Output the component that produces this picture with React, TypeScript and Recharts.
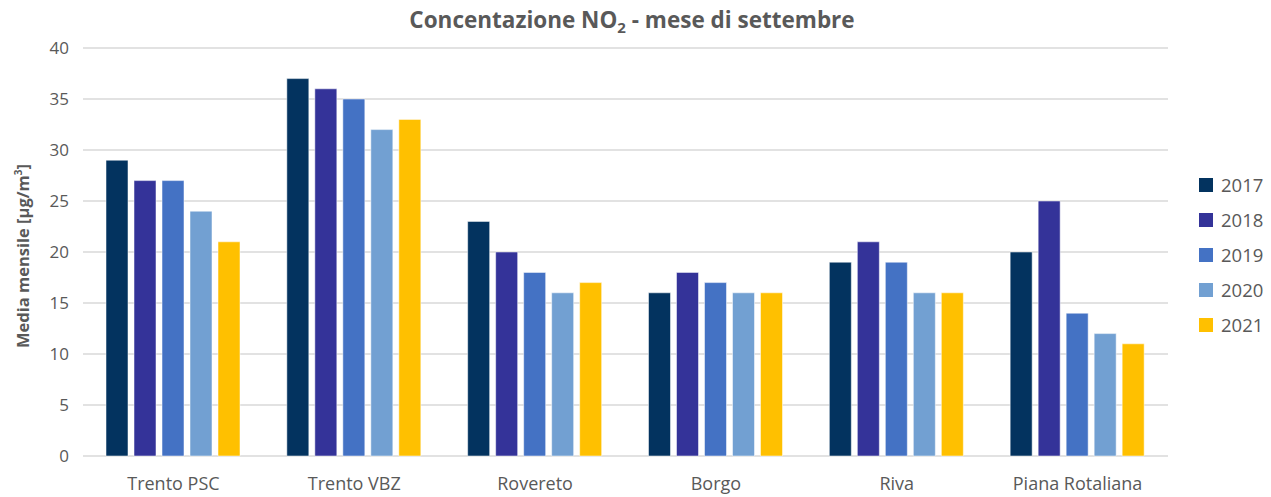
import React from "react";
import {
  BarChart,
  Bar,
  XAxis,
  YAxis,
  CartesianGrid,
} from "recharts";

const stations = ["Trento PSC", "Trento VBZ", "Rovereto", "Borgo", "Riva", "Piana Rotaliana"];
const years = ["2017", "2018", "2019", "2020", "2021"];
const v2017 = [29, 37, 23, 16, 19, 20];
const v2018 = [27, 36, 20, 18, 21, 25];
const v2019 = [27, 35, 18, 17, 19, 14];
const v2020 = [24, 32, 16, 16, 16, 12];
const v2021 = [21, 33, 17, 16, 16, 11];
const yTicks = [0, 5, 10, 15, 20, 25, 30, 35, 40];

const colors = ["#03335f", "#343399", "#4472c4", "#72a0d2", "#ffc000"];
const series = [v2017, v2018, v2019, v2020, v2021];

const data = stations.map((name, i) => {
  const row: Record<string, any> = { name };
  years.forEach((y, k) => (row[y] = series[k][i]));
  return row;
});

const FONT = "Open Sans, Liberation Sans, sans-serif";
const TEXT = "#595959";

const YLabel = () => (
  <text
    x={0}
    y={0}
    transform="translate(29, 256) rotate(-90)"
    textAnchor="middle"
    fontFamily={FONT}
    fontWeight="bold"
    fontSize={16.5}
    fill={TEXT}
  >
    Media mensile [µg/m
    <tspan dy={-7} fontSize={10}>3</tspan>
    <tspan dy={7}>]</tspan>
  </text>
);

// legend drawn beside the chart, like the original
const SideLegend = () => (
  <div
    style={{
      position: "absolute",
      left: 1199,
      top: 167,
      fontFamily: FONT,
      fontSize: 18.5,
      color: TEXT,
    }}
  >
    {years.map((y, i) => (
      <div key={y} style={{ display: "flex", alignItems: "center", height: 35 }}>
        <span style={{ width: 14, height: 14, background: colors[i], marginRight: 8, display: "inline-block" }} />
        {y}
      </div>
    ))}
  </div>
);

export default function App() {
  return (
    <div style={{ position: "absolute", left: 0, top: 0, width: 1271, height: 497, background: "#fff" }}>
      <BarChart
        width={1271}
        height={497}
        data={data}
        margin={{ top: 48, right: 103, bottom: 0, left: 23 }}
        barSize={22}
        barGap={6}
      >
        <text
          x={632}
          y={28}
          textAnchor="middle"
          fontFamily={FONT}
          fontWeight="bold"
          fontSize={22.5}
          fill={TEXT}
        >
          Concentazione NO
          <tspan dy={5} fontSize={15}>2</tspan>
          <tspan dy={-5}> - mese di settembre</tspan>
        </text>
        <YLabel />
        <CartesianGrid vertical={false} stroke="#d9d9d9" strokeWidth={1.3} />
        <XAxis
          dataKey="name"
          axisLine={false}
          tickLine={false}
          height={41}
          tick={{ fontFamily: FONT, fontSize: 18, fill: TEXT }}
          dy={13}
        />
        <YAxis
          domain={[0, 40]}
          ticks={yTicks}
          axisLine={false}
          tickLine={false}
          width={60}
          tick={{ fontFamily: FONT, fontSize: 17, fill: TEXT, dx: -6 }}
          interval={0}
        />
        {years.map((y, i) => (
          <Bar
            key={y}
            dataKey={y}
            fill={colors[i]}
            stroke="#ffffff"
            strokeOpacity={0.5}
            strokeWidth={1}
            isAnimationActive={false}
          />
        ))}
      </BarChart>
      <SideLegend />
    </div>
  );
}
